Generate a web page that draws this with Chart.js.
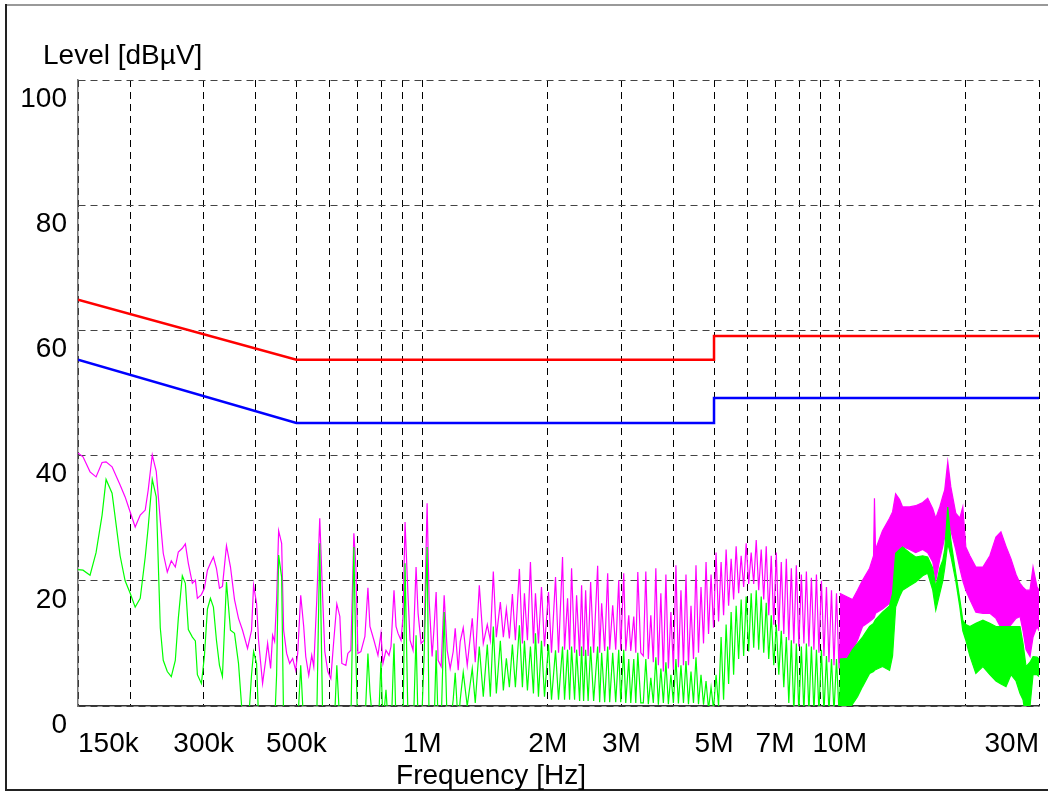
<!DOCTYPE html>
<html>
<head>
<meta charset="utf-8">
<script src="https://cdn.jsdelivr.net/npm/chart.js@4.4.0/dist/chart.umd.min.js"></script>
<style>
  html, body { margin: 0; padding: 0; background: #fff; }
  canvas { display: block; }
</style>
</head>
<body>
<canvas id="emi" width="1048" height="793"></canvas>
<script>
// frequencies in MHz, levels in dBµV

// measured trace 150 kHz .. 10 MHz (peak = magenta, average = green)
const traceFreq = [
  0.150,0.1542,0.1603,0.1657,0.1713,0.1751,0.1810,0.1892,0.1945,0.2000,
  0.2056,0.2114,0.2173,0.2209,0.2259,0.2309,0.2361,0.2400,0.2454,0.2509,
  0.2565,0.2608,0.2666,0.2711,0.2756,0.2818,0.2865,0.2897,0.2962,0.3011,
  0.3062,0.3113,0.3165,0.3218,0.3272,0.3326,0.3401,0.3477,0.3555,0.3634,
  0.3716,0.3820,0.3905,0.3949,0.4015,0.4059,0.4150,0.4220,0.4267,0.4338,
  0.4386,0.4435,0.4484,0.4534,0.4610,0.4661,0.4739,0.4818,0.4899,0.4981,
  0.5037,0.5121,0.5206,0.5265,0.5353,0.5442,0.5503,0.5595,0.5688,0.5783,
  0.5848,0.5946,0.6045,0.6146,0.6249,0.6354,0.6424,0.6568,0.6641,0.6752,
  0.6865,0.6942,0.7019,0.7136,0.7296,0.7418,0.7501,0.7668,0.7840,0.7971,
  0.8060,0.8195,0.8332,0.8424,0.8565,0.8661,0.8757,0.8903,0.9002,0.9103,
  0.9255,0.9358,0.9514,0.9673,0.9781,0.9945,
  1.0111,1.0280,1.0395,1.0569,1.0686,1.0805,1.0925,1.1108,1.1294,1.1483,
  1.1675,1.1871,1.2003,1.2203,1.2339,1.2546,1.2826,1.3186,1.3406,1.3707,
  1.4013,1.4326,1.4566,1.4809,1.5058,1.5394,1.5652,1.5914,1.6180,1.6451,
  1.6726,1.7100,1.7386,1.7580,1.7874,1.8172,1.8476,1.8682,1.8995,1.9313,
  1.9636,2.0075,2.0411,2.0867,2.1216,2.1691,2.1933,2.2300,2.2549,2.2799,
  2.3180,2.3439,2.3831,2.4094,2.4363,2.4635,2.4978,2.5324,2.5748,2.6324,
  2.6618,2.6912,2.7362,2.7821,2.8131,2.8602,2.9081,2.9568,2.9895,3.0395,
  3.0735,3.1249,3.1596,3.2125,3.2483,3.2845,3.3394,
  3.386,3.433,3.481,3.529,3.578,3.628,3.679,3.730,3.782,3.835,
  3.888,3.942,3.997,4.053,4.109,4.167,4.225,4.284,4.343,4.404,
  4.465,4.527,4.590,4.654,4.719,4.785,4.851,4.919,4.987,5.057,
  5.127,5.199,5.271,5.345,5.419,5.495,5.571,5.649,5.727,5.807,
  5.888,5.970,6.053,6.137,6.223,6.310,6.397,6.486,6.577,6.668,
  6.761,6.855,6.951,7.048,7.146,7.245,7.346,7.449,7.552,7.658,
  7.764,7.872,7.982,8.093,8.206,8.320,8.436,8.554,8.673,8.794,
  8.916,9.040,9.166,9.294,9.423,9.555,9.688,9.823,9.960,10.10
];

const peakTrace = [
  40.4,39.8,37.4,36.6,38.9,39.0,38.2,35.3,33.4,31.0,
  28.6,30.5,31.3,34.5,40.1,37.5,29.7,24.4,21.4,23.2,
  22.2,24.6,25.2,25.9,22.8,19.6,20.1,17.2,17.8,18.8,
  21.7,22.8,23.8,22.0,18.8,19.1,25.6,22.2,17.0,14.0,
  12.1,9.2,12.1,19.3,16.4,10.5,3.6,7.3,10.0,6.0,
  11.3,10.3,16.9,28.0,26.0,12.1,8.4,6.8,7.6,5.7,
  8.4,17.7,12.7,7.9,4.9,8.1,6.3,16.9,30.0,16.9,
  8.7,5.5,4.4,10.5,16.3,14.3,6.8,6.5,8.4,8.9,
  27.6,22.2,8.4,8.7,11.1,18.9,12.7,10.5,8.1,11.6,
  6.8,8.9,8.1,9.5,18.5,12.7,11.6,10.5,14.3,29.4,
  17.4,10.5,8.9,22.2,14.8,10.0,
  10.5,32.4,16.9,7.9,12.7,18.2,7.3,6.3,17.7,8.9,
  6.0,8.7,12.4,5.7,10.3,12.5,6.5,14.0,7.0,19.3,
  10.0,13.0,10.5,21.5,11.0,16.6,11.0,15.5,10.8,17.9,
  10.5,21.9,10.0,18.0,10.5,23.0,10.0,18.0,10.0,19.0,
  9.5,18.2,8.5,20.6,8.5,23.8,9.0,17.2,9.0,22.0,
  8.5,17.7,8.0,19.3,8.0,18.5,8.0,19.8,8.5,22.4,
  8.5,16.4,8.8,21.2,9.0,16.1,9.0,20.1,9.0,21.2,
  8.8,14.5,8.8,14.3,8.5,21.4,8.5,
  8.0,21.5,7.5,14.5,7.0,22.0,6.5,18.0,5.5,21.0,
  6.0,15.0,5.8,22.5,6.2,18.5,6.5,21.0,6.5,16.0,
  7.5,22.5,8.5,19.0,10.0,23.0,11.5,21.0,12.5,24.5,
  13.5,23.0,14.5,25.0,16.0,23.5,17.0,25.5,18.0,24.0,
  19.0,26.0,19.5,24.5,19.5,26.5,18.5,25.0,17.0,25.5,
  14.5,24.0,13.0,24.5,12.0,23.0,11.5,23.5,10.5,22.0,
  10.0,22.5,9.5,21.0,10.0,21.5,9.5,20.5,9.0,21.0,
  8.5,20.0,8.0,19.0,7.0,18.5,6.5,18.0,6.0,17.5
];

const avgTrace = [
  21.8,21.7,20.9,24.5,30.5,36.2,34.0,24.0,20.0,18.0,
  15.8,17.2,23.8,28.6,36.2,33.4,12.5,7.3,5.5,4.7,
  7.3,14.0,20.8,19.6,12.2,11.0,10.4,5.0,3.6,7.9,
  15.5,17.2,15.8,10.5,6.5,4.7,19.8,12.1,11.6,6.8,
  -2,-5,5.0,8.7,6.8,-2,-5,-5,-5,-5,
  -5,-3,5,24.1,20.6,-3,-5,-5,-5,-5,
  -3,6.5,-3,-5,-5,-5,-5,-2,26.0,-3,
  -5,-5,-5,-5,6.5,-3,-5,-5,-5,-3,
  25.4,8,-5,-5,-3,8.4,2.3,-5,-5,7.1,
  -3,2.6,-5,-5,10.0,-3,-5,-5,-3,22.8,
  -3,-5,-5,11.3,-3,-5,
  7.9,25.4,-3,-5,-3,8.9,-3,-3,15.0,-3,
  -3,1,5.3,-3,1,5.4,0,6.0,0.5,9.5,
  1.5,9.8,1.5,12.7,2,10.4,2.5,7.6,3,9.8,
  3,12.9,3,10.4,2.5,9.5,2,11.6,1.5,10.4,
  1.5,9.8,1.0,8.9,1,9.5,1,9,1,9.5,
  1,9,0.8,9.5,0.8,9,0.8,9.5,0.8,9.5,
  0.6,8.5,0.6,9.5,0.6,8.5,0.6,9,0.6,9,
  0.5,7.5,0.5,7.5,0.5,8.5,0.5,
  0.5,7.5,0.3,4.5,0.5,7.8,0.2,6.0,0.5,7.0,
  0.3,5.0,0.5,7.5,0.4,6.5,0.5,7.2,0.3,5.5,
  0.5,7.8,0.3,5.0,0.2,4.0,-0.5,3.0,-0.5,5.0,
  0.0,11.0,1.0,13.0,3.5,15.0,5.0,16.0,7.5,17.0,
  8.0,17.5,8.7,18.0,9.3,18.5,9.0,17.5,8.5,16.5,
  7.5,14.5,6.5,13.0,5.0,12.0,3.0,11.0,0.5,10.5,
  -1,10.0,-1,9.5,-1,10.0,-1,9.5,-1,9.0,
  -1,9.0,-1,8.0,-1,7.5,-1,7.5,-1,7.5
];

// dense part 10 .. 30 MHz, given as upper / lower envelope
const bandFreq = [
  10.0,10.43,10.73,11.03,11.34,11.79,12.05,12.11,12.18,12.66,
  13.16,13.38,13.61,13.91,14.14,14.70,15.20,15.80,16.24,16.70,
  16.98,17.36,17.65,17.84,18.14,18.45,18.96,19.39,19.71,20.04,
  20.49,21.18,22.02,22.88,23.66,24.32,25.01,25.71,26.43,27.02,
  27.47,27.93,28.55,29.03,29.68,30.0
];
const peakUpper = [
  18.0,17.4,17.0,18.5,20.1,22.0,24.0,33.2,25.0,28.0,
  30.0,31.0,33.9,33.0,31.8,31.8,32.0,32.5,33.2,31.5,
  30.0,31.8,33.5,34.5,39.0,35.0,30.8,30.0,31.8,25.4,
  24.0,22.2,22.2,24.0,27.0,27.8,25.5,23.5,21.0,19.6,
  19.0,18.5,18.5,22.2,19.0,18.5
];
const peakLower = [
  6.0,7.5,8.9,10.5,12.7,13.5,14.0,14.2,14.8,15.5,
  16.4,18.0,24.0,25.0,25.5,25.0,24.5,25.0,24.5,23.0,
  20.0,23.5,25.5,27.0,29.0,28.0,25.0,22.0,20.0,18.5,
  17.0,15.0,14.8,14.8,14.0,12.5,12.1,13.0,14.0,14.3,
  12.0,9.0,7.9,11.0,12.7,12.0
];
const avgUpper = [
  7.5,7.6,9.0,10.0,11.0,12.7,13.2,13.5,13.8,15.0,
  16.0,18.0,24.4,25.0,25.4,24.5,23.8,24.0,23.8,22.0,
  19.0,22.0,23.3,25.0,31.8,26.5,21.2,17.0,13.7,13.0,
  12.7,13.2,13.7,13.2,12.7,12.7,12.7,12.7,12.7,12.7,
  10.0,6.3,7.0,7.9,7.8,7.5
];
const avgLower = [
  -1,-1,0.3,1.5,3.1,5.2,5.5,5.7,5.8,6.3,
  5.7,8.0,15.8,17.5,18.5,19.2,19.8,20.8,21.2,18.5,
  15.3,18.0,20.0,22.0,26.0,24.0,20.0,15.8,12.0,10.5,
  8.0,5.2,6.3,5.0,4.0,3.5,3.1,5.0,4.0,2.0,
  1.0,-2,0,5.0,5.0,4.7
];

// limit lines
const limitFreq = [0.15, 0.5, 5, 5, 30];
const qpLimit = [64.9, 55.3, 55.3, 59.1, 59.1];
const avLimit = [55.3, 45.2, 45.2, 49.2, 49.2];

// axes
const gridFreq = [0.15,0.2,0.3,0.4,0.5,0.6,0.7,0.8,0.9,1,2,3,4,5,6,7,8,9,10,20,30];
const gridLabels = ['150k','','300k','','500k','','','','','1M','2M','3M','','5M','','7M','','','10M','','30M'];

const pts = (xs, ys) => xs.map((x, i) => ({ x: x, y: ys[i] }));
const FONT = '"Liberation Sans", Arial, sans-serif';
const FONT_SIZE = 28;

const MAGENTA = '#ff00ff';
const GREEN = '#00ff00';

const frame = {
  id: 'frame',
  beforeDraw(chart) {
    const ctx = chart.ctx;
    ctx.save();
    ctx.fillStyle = '#fff';
    ctx.fillRect(0, 0, chart.width, chart.height);
    ctx.restore();
  },
  afterDraw(chart) {
    const ctx = chart.ctx;
    ctx.save();
    ctx.lineWidth = 2;
    ctx.strokeStyle = '#999';
    ctx.beginPath(); ctx.moveTo(6, 5); ctx.lineTo(chart.width, 5); ctx.stroke();
    ctx.strokeStyle = '#222';
    ctx.beginPath(); ctx.moveTo(6, 4); ctx.lineTo(6, 790); ctx.lineTo(chart.width, 790); ctx.stroke();
    ctx.fillStyle = '#000';
    ctx.font = FONT_SIZE + 'px ' + FONT;
    ctx.textBaseline = 'alphabetic';
    ctx.textAlign = 'left';
    ctx.fillText('Level [dBµV]', 43, 64);
    ctx.textAlign = 'center';
    ctx.fillText('Frequency [Hz]', 491, 784);
    ctx.restore();
  }
};

const line = (data, color, order, extra) => Object.assign({
  data: data,
  borderColor: color,
  backgroundColor: color,
  borderWidth: 1.2,
  pointRadius: 0,
  tension: 0,
  fill: false,
  order: order
}, extra || {});

new Chart(document.getElementById('emi'), {
  type: 'line',
  data: {
    datasets: [
      line(pts(traceFreq, peakTrace), MAGENTA, 3),
      line(pts(bandFreq, peakUpper), MAGENTA, 3),
      line(pts(bandFreq, peakLower), MAGENTA, 3, { fill: '-1' }),
      line(pts(traceFreq, avgTrace), GREEN, 2),
      line(pts(bandFreq, avgUpper), GREEN, 2),
      line(pts(bandFreq, avgLower), GREEN, 2, { fill: '-1' }),
      line(pts(limitFreq, qpLimit), '#ff0000', 1, { borderWidth: 2.5 }),
      line(pts(limitFreq, avLimit), '#0000ff', 1, { borderWidth: 2.5 })
    ]
  },
  options: {
    responsive: false,
    animation: false,
    events: [],
    layout: { padding: { top: 80, right: 9, left: 0, bottom: 0 } },
    plugins: { legend: { display: false }, tooltip: { enabled: false } },
    scales: {
      x: {
        type: 'logarithmic',
        min: 0.15,
        max: 30,
        afterBuildTicks: (s) => { s.ticks = gridFreq.map(v => ({ value: v })); },
        afterFit: (s) => { s.height = 87; s.paddingLeft = 0; s.paddingRight = 0; },
        grid: { color: '#000', lineWidth: 1, drawTicks: false },
        border: { display: true, color: '#333', width: 1.5, dash: [7, 5] },
        ticks: {
          autoSkip: false,
          maxRotation: 0,
          minRotation: 0,
          align: 'inner',
          padding: 21,
          color: '#000',
          font: { family: FONT, size: FONT_SIZE },
          callback: (v, i) => gridLabels[i]
        }
      },
      y: {
        min: 0,
        max: 100,
        afterFit: (s) => { s.width = 78; s.paddingTop = 0; s.paddingBottom = 0; },
        grid: { color: '#444', lineWidth: 1, drawTicks: false },
        border: { display: true, color: '#777', width: 1.5, dash: [7, 5] },
        ticks: {
          stepSize: 20,
          labelOffset: 19,
          padding: 11,
          color: '#000',
          font: { family: FONT, size: FONT_SIZE }
        }
      }
    }
  },
  plugins: [frame]
});
</script>
</body>
</html>
